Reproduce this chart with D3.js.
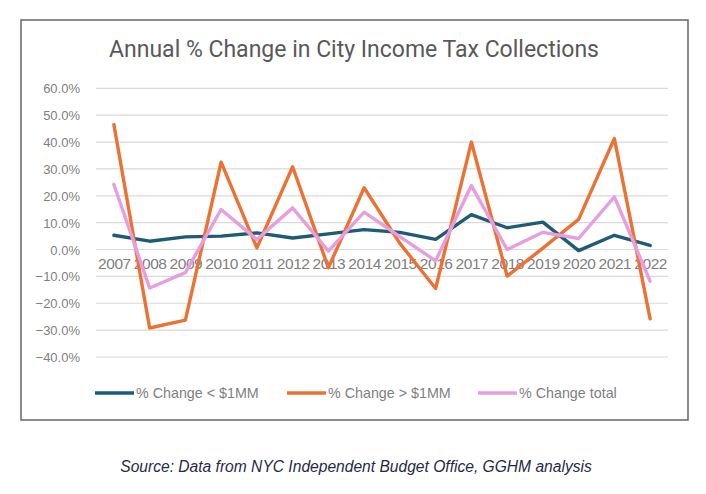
<!DOCTYPE html>
<html lang="en">
<head>
  <meta charset="UTF-8">
  <title>Annual % Change in City Income Tax Collections</title>
  <script src="https://cdn.jsdelivr.net/npm/d3@7"></script>
  <style>
    body { margin: 0; background: #fff; }
    .axis-label text { font-family: "Liberation Sans", Arial, sans-serif; fill: #808080; }
  </style>
</head>
<body>
  <script>
    // Data (values in percent)
    const years = ["2007","2008","2009","2010","2011","2012","2013","2014",
                   "2015","2016","2017","2018","2019","2020","2021","2022"];
    const under1MM = [5.3, 3.1, 4.7, 5.0, 6.2, 4.3, 5.8, 7.4, 6.4, 3.8, 13.0, 8.1, 10.2, -0.4, 5.3, 1.5];
    const over1MM  = [46.5, -29.2, -26.3, 32.5, 0.6, 30.8, -6.8, 23.0, 2.3, -14.5, 40.0, -9.9, 0.5, 11.2, 41.3, -25.8];
    const total    = [24.2, -14.3, -8.6, 14.9, 3.7, 15.5, -0.6, 13.9, 4.8, -4.2, 23.8, 0.0, 6.4, 4.1, 19.6, -11.8];
    const yTicks   = [-40, -30, -20, -10, 0, 10, 20, 30, 40, 50, 60];
    const seriesNames = ["% Change < $1MM", "% Change > $1MM", "% Change total"];
    const seriesColors = ["#1d5b78", "#ec7133", "#e79ee0"];

    const series = [under1MM, over1MM, total].map((vals, i) => ({
      name: seriesNames[i], color: seriesColors[i],
      values: vals.map((v, j) => ({ year: years[j], v: v }))
    }));

    const svg = d3.select("body").append("svg")
      .attr("width", 706).attr("height", 494);

    // chart frame
    svg.append("rect")
      .attr("x", 21).attr("y", 20).attr("width", 667).attr("height", 400)
      .attr("fill", "#fff").attr("stroke", "#666").attr("stroke-width", 1.5);

    // scales
    const x = d3.scalePoint().domain(years).range([96, 668]).padding(0.5);
    const y = d3.scaleLinear().domain([-40, 60]).range([357, 88.3]);

    // gridlines
    svg.append("g")
      .selectAll("line")
      .data(yTicks)
      .join("line")
      .attr("x1", 96).attr("x2", 668)
      .attr("y1", d => y(d)).attr("y2", d => y(d))
      .attr("stroke", "#d9d9d9").attr("stroke-width", 1.2);

    // y axis labels
    const yAxis = svg.append("g")
      .attr("class", "axis-label")
      .attr("transform", "translate(80,0)")
      .call(d3.axisLeft(y).tickValues(yTicks).tickSize(0).tickPadding(0)
        .tickFormat(d => d3.format(".1f")(d) + "%"));
    yAxis.select(".domain").remove();
    yAxis.selectAll("text").attr("font-size", 13).attr("dy", "0.35em");

    // x axis labels (sit just under the zero line)
    const xAxis = svg.append("g")
      .attr("class", "axis-label")
      .attr("transform", "translate(0," + y(0) + ")")
      .call(d3.axisBottom(x).tickSize(0).tickPadding(14));
    xAxis.select(".domain").remove();
    xAxis.selectAll("text").attr("font-size", 15.5).attr("dy", "0.35em")
      .attr("letter-spacing", -0.4);

    // lines
    const line = d3.line().x(d => x(d.year)).y(d => y(d.v));
    svg.append("g")
      .selectAll("path")
      .data(series)
      .join("path")
      .attr("d", d => line(d.values))
      .attr("fill", "none")
      .attr("stroke", d => d.color)
      .attr("stroke-width", 3.4)
      .attr("stroke-linejoin", "round")
      .attr("stroke-linecap", "round");

    // title
    svg.append("text")
      .attr("x", 354).attr("y", 57)
      .attr("text-anchor", "middle")
      .attr("font-family", "Roboto, sans-serif")
      .attr("font-size", 23)
      .attr("fill", "#595959")
      .text("Annual % Change in City Income Tax Collections");

    // legend
    const legendX = [95, 287, 478];
    const legend = svg.append("g").selectAll("g")
      .data(series)
      .join("g")
      .attr("transform", (d, i) => "translate(" + legendX[i] + ",393)");
    legend.append("line")
      .attr("x1", 0).attr("x2", 39)
      .attr("stroke", d => d.color).attr("stroke-width", 3.4);
    legend.append("text")
      .attr("x", 41).attr("dy", "0.35em")
      .attr("font-family", "Liberation Sans, Arial, sans-serif")
      .attr("font-size", 14.3)
      .attr("fill", "#808080")
      .text(d => d.name);

    // source note
    svg.append("text")
      .attr("x", 356).attr("y", 472)
      .attr("text-anchor", "middle")
      .attr("font-family", "Liberation Sans, Arial, sans-serif")
      .attr("font-style", "italic")
      .attr("font-size", 15.6)
      .attr("fill", "#1f2b47")
      .text("Source: Data from NYC Independent Budget Office, GGHM analysis");
  </script>
</body>
</html>
